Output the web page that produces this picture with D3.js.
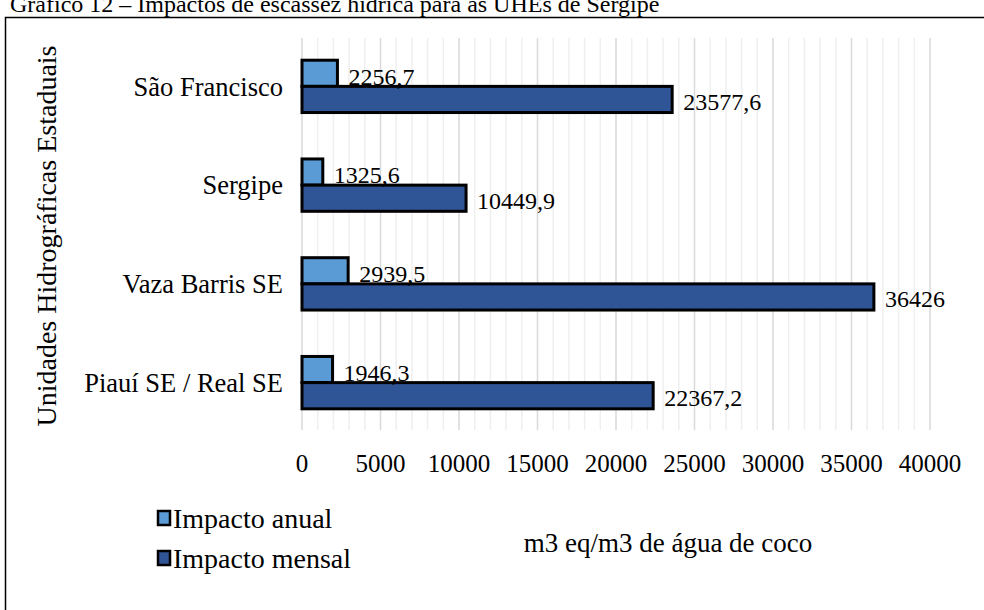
<!DOCTYPE html>
<html>
<head>
<meta charset="utf-8">
<script src="https://cdn.jsdelivr.net/npm/d3@7"></script>
<style>
  body { margin: 0; background: #fff; }
  text { font-family: "Liberation Serif", "Times New Roman", serif; fill: #000; }
</style>
</head>
<body>
<div id="chart"></div>
<script>
// data
var categories = ["São Francisco", "Sergipe", "Vaza Barris SE", "Piauí SE / Real SE"];
var impactoAnual = [2256.7, 1325.6, 2939.5, 1946.3];
var impactoMensal = [23577.6, 10449.9, 36426, 22367.2];
var seriesNames = ["Impacto anual", "Impacto mensal"];
var xTicks = [0, 5000, 10000, 15000, 20000, 25000, 30000, 35000, 40000];

var colors = ["#5B9BD5", "#2F5597"];

var width = 984, height = 610;
var svg = d3.select("#chart").append("svg")
    .attr("width", width)
    .attr("height", height);

// frame + title (cropped at the top, like the source)
svg.append("text")
    .attr("x", 10).attr("y", 12)
    .style("font-size", "24px")
    .text("Gráfico 12 – Impactos de escassez hídrica para as UHEs de Sergipe");

svg.append("path")
    .attr("d", "M5.5,610 V17.5 H984")
    .attr("fill", "none")
    .attr("stroke", "#000")
    .attr("stroke-width", 1.5);

var plot = {left: 302, right: 930, top: 37, bottom: 432};

var x = d3.scaleLinear().domain([0, 40000]).range([plot.left, plot.right]);
var y = d3.scaleBand().domain(categories).range([plot.top, plot.bottom]).paddingInner(0.47).paddingOuter(0.235);
var ySub = d3.scaleBand().domain(seriesNames).range([0, y.bandwidth()]);

// gridlines: minor every 1000, major every 5000
var minor = d3.range(1000, 40001, 1000);
svg.append("g").selectAll("line")
    .data(minor)
    .enter().append("line")
    .attr("x1", function(d) { return x(d); })
    .attr("x2", function(d) { return x(d); })
    .attr("y1", plot.top + 1)
    .attr("y2", plot.bottom - 2)
    .attr("stroke", function(d) { return d % 5000 === 0 ? "#d9d9d9" : "#efefef"; })
    .attr("stroke-width", 1.5);

// y axis line at 0
svg.append("line")
    .attr("x1", x(0)).attr("x2", x(0))
    .attr("y1", plot.top + 1).attr("y2", plot.bottom - 2)
    .attr("stroke", "#d9d9d9").attr("stroke-width", 1.5);

var rows = categories.map(function(c, i) {
    return {cat: c, values: [impactoAnual[i], impactoMensal[i]]};
});

var groups = svg.append("g").selectAll("g")
    .data(rows)
    .enter().append("g")
    .attr("transform", function(d) { return "translate(0," + y(d.cat) + ")"; });

groups.selectAll("rect")
    .data(function(d) { return d.values.map(function(v, j) { return {name: seriesNames[j], v: v, j: j}; }); })
    .enter().append("rect")
    .attr("x", x(0))
    .attr("y", function(d) { return ySub(d.name); })
    .attr("width", function(d) { return x(d.v) - x(0); })
    .attr("height", ySub.bandwidth())
    .attr("fill", function(d) { return colors[d.j]; })
    .attr("stroke", "#000")
    .attr("stroke-width", 3);

groups.selectAll("text.val")
    .data(function(d) { return d.values.map(function(v, j) { return {name: seriesNames[j], v: v, j: j}; }); })
    .enter().append("text")
    .attr("class", "val")
    .attr("x", function(d) { return x(d.v) + 11; })
    .attr("y", function(d) { return ySub(d.name) + ySub.bandwidth() / 2 + (d.j === 0 ? 3 : 2); })
    .attr("dy", "0.35em")
    .style("font-size", "24px")
    .text(function(d) { return String(d.v).replace(".", ","); });

// category labels
svg.append("g").selectAll("text")
    .data(categories)
    .enter().append("text")
    .attr("x", 283)
    .attr("y", function(d) { return y(d) + y.bandwidth() / 2; })
    .attr("dy", "0.35em")
    .attr("text-anchor", "end")
    .style("font-size", "26.5px")
    .text(function(d) { return d; });

// x tick labels
svg.append("g").selectAll("text")
    .data(xTicks)
    .enter().append("text")
    .attr("x", function(d) { return x(d); })
    .attr("y", 463)
    .attr("dy", "0.35em")
    .attr("text-anchor", "middle")
    .style("font-size", "25px")
    .text(function(d) { return d; });

// axis titles
svg.append("text")
    .attr("transform", "translate(46,236) rotate(-90)")
    .attr("text-anchor", "middle")
    .attr("dy", "0.35em")
    .style("font-size", "28px")
    .text("Unidades Hidrográficas Estaduais");

svg.append("text")
    .attr("x", 668).attr("y", 543)
    .attr("dy", "0.35em")
    .attr("text-anchor", "middle")
    .style("font-size", "27px")
    .text("m3 eq/m3 de água de coco");

// legend
var legend = svg.append("g").selectAll("g")
    .data(seriesNames)
    .enter().append("g")
    .attr("transform", function(d, i) { return "translate(158," + (518 + i * 40) + ")"; });

legend.append("rect")
    .attr("x", 0).attr("y", -7)
    .attr("width", 12).attr("height", 14)
    .attr("fill", function(d, i) { return colors[i]; })
    .attr("stroke", "#000")
    .attr("stroke-width", 2.5);

legend.append("text")
    .attr("x", 15).attr("y", 0)
    .attr("dy", "0.35em")
    .style("font-size", "28px")
    .text(function(d) { return d; });
</script>
</body>
</html>
